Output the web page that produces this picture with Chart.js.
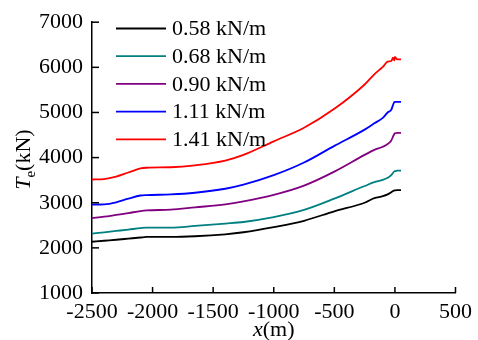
<!DOCTYPE html>
<html>
<head>
<meta charset="utf-8">
<script src="https://cdn.jsdelivr.net/npm/chart.js@4/dist/chart.umd.min.js"></script>
<style>
  html, body { margin: 0; padding: 0; background: #fff; }
  #wrap { width: 478px; height: 340px; }
</style>
</head>
<body>
<div id="wrap"><canvas id="c" width="478" height="340"></canvas></div>
<script>
// distance along x (m), shared by all curves
const xs = [-2500, -2400, -2300, -2200, -2100, -2050, -1850, -1650, -1400, -1250, -1000, -750, -500, -250, -170, -100, -60, -30, -15, -5, 0, 20, 50];

const labels = ['0.58 kN/m', '0.68 kN/m', '0.90 kN/m', '1.11 kN/m', '1.41 kN/m'];
const colors = ['#000000', '#008080', '#800080', '#0000ff', '#ff0000'];

// Te (kN)
const te058 = [2135, 2158, 2180, 2205, 2230, 2242, 2242, 2257, 2301, 2346, 2460, 2600, 2810, 3000, 3100, 3145, 3184, 3230, 3262, 3272, 3275, 3278, 3278];
const te068 = [2317, 2345, 2375, 2405, 2437, 2449, 2449, 2485, 2538, 2573, 2680, 2840, 3090, 3370, 3455, 3505, 3552, 3610, 3665, 3695, 3700, 3712, 3712];
const te090 = [2660, 2690, 2730, 2770, 2815, 2830, 2846, 2897, 2963, 3030, 3175, 3380, 3690, 4060, 4170, 4240, 4300, 4380, 4470, 4525, 4540, 4548, 4548];
const te111 = [2960, 2965, 3010, 3090, 3160, 3170, 3184, 3221, 3310, 3400, 3610, 3890, 4260, 4620, 4760, 4880, 5000, 5060, 5170, 5230, 5235, 5235, 5235];
const te141 = [3515, 3525, 3580, 3670, 3760, 3775, 3786, 3830, 3934, 4060, 4360, 4660, 5080, 5620, 5846, 6010, 6125, 6140, 6215, 6150, 6230, 6175, 6175];

const series = [te058, te068, te090, te111, te141];

const FONT = '"Liberation Serif", "Times New Roman", serif';
const FS = 22;

// inward ticks, legend and axis titles
const extras = {
  id: 'extras',
  afterDraw(chart) {
    const ctx = chart.ctx;
    const xa = chart.scales.x, ya = chart.scales.y;
    const area = chart.chartArea;
    ctx.save();
    ctx.strokeStyle = '#000';
    ctx.lineWidth = 1.5;
    xa.ticks.forEach(t => {
      const px = xa.getPixelForValue(t.value);
      ctx.beginPath();
      ctx.moveTo(px, area.bottom);
      ctx.lineTo(px, area.bottom - 6);
      ctx.stroke();
    });
    ya.ticks.forEach(t => {
      const py = ya.getPixelForValue(t.value);
      ctx.beginPath();
      ctx.moveTo(area.left, py);
      ctx.lineTo(area.left + 7, py);
      ctx.stroke();
    });

    // legend
    ctx.font = FS + 'px ' + FONT;
    ctx.textBaseline = 'middle';
    ctx.textAlign = 'left';
    chart.data.datasets.forEach((ds, i) => {
      const y = 28.5 + i * 27.7;
      ctx.strokeStyle = ds.borderColor;
      ctx.lineWidth = 1.8;
      ctx.beginPath();
      ctx.moveTo(116, y);
      ctx.lineTo(166, y);
      ctx.stroke();
      ctx.fillStyle = '#000';
      ctx.fillText(ds.label, 172, y + 1);
    });

    // x title: x(m)
    ctx.textBaseline = 'alphabetic';
    const cx = (area.left + area.right) / 2;
    ctx.font = 'italic ' + FS + 'px ' + FONT;
    const w1 = ctx.measureText('x').width;
    ctx.font = FS + 'px ' + FONT;
    const w2 = ctx.measureText('(m)').width;
    let sx = cx - (w1 + w2) / 2;
    ctx.font = 'italic ' + FS + 'px ' + FONT;
    ctx.fillText('x', sx, 336);
    ctx.font = FS + 'px ' + FONT;
    ctx.fillText('(m)', sx + w1, 336);

    // y title: Te(kN), rotated
    ctx.translate(30, (area.top + area.bottom) / 2 + 2);
    ctx.rotate(-Math.PI / 2);
    ctx.font = 'italic ' + FS + 'px ' + FONT;
    const a = ctx.measureText('T').width;
    ctx.font = '15px ' + FONT;
    const b = ctx.measureText('e').width;
    ctx.font = FS + 'px ' + FONT;
    const c = ctx.measureText('(kN)').width;
    sx = -(a + b + c) / 2;
    ctx.font = 'italic ' + FS + 'px ' + FONT;
    ctx.fillText('T', sx, 0);
    ctx.font = '15px ' + FONT;
    ctx.fillText('e', sx + a, 5);
    ctx.font = FS + 'px ' + FONT;
    ctx.fillText('(kN)', sx + a + b, 0);
    ctx.restore();
  }
};

new Chart(document.getElementById('c'), {
  type: 'line',
  data: {
    datasets: series.map((vals, i) => ({
      label: labels[i],
      data: xs.map((x, j) => ({ x: x, y: vals[j] })),
      borderColor: colors[i],
      borderWidth: 1.8,
      pointRadius: 0,
      cubicInterpolationMode: 'monotone',
      fill: false
    }))
  },
  options: {
    responsive: false,
    animation: false,
    layout: { padding: { top: 21, right: 18, left: 0, bottom: 0 } },
    plugins: { legend: { display: false }, tooltip: { enabled: false } },
    scales: {
      x: {
        type: 'linear',
        min: -2500,
        max: 500,
        ticks: { stepSize: 500, color: '#000', padding: 6, font: { family: FONT, size: FS }, callback: v => String(v) },
        grid: { drawOnChartArea: false, drawTicks: false },
        border: { color: '#000', width: 1.5 },
        afterFit(s) { s.height = 47; }
      },
      y: {
        min: 1000,
        max: 7000,
        ticks: { stepSize: 1000, color: '#000', padding: 9, font: { family: FONT, size: FS }, callback: v => String(v) },
        grid: { drawOnChartArea: false, drawTicks: false },
        border: { color: '#000', width: 1.5 },
        afterFit(s) { s.width = 92; }
      }
    }
  },
  plugins: [extras]
});
</script>
</body>
</html>
